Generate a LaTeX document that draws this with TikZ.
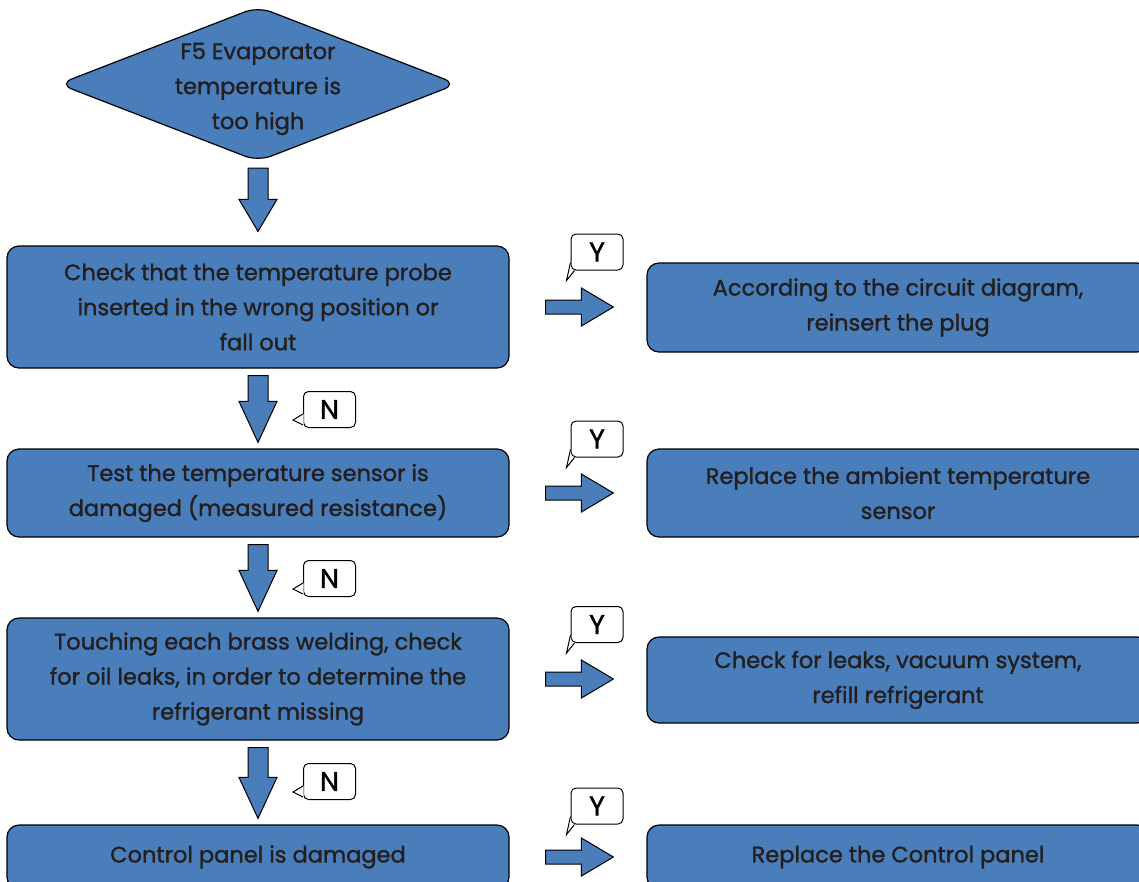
\documentclass[tikz,border=0pt]{standalone}
\usepackage{fontspec}
\setmainfont{Poppins}[FakeBold=1.4]
\usetikzlibrary{calc}
\definecolor{boxblue}{HTML}{4A7EBB}
\definecolor{txt}{HTML}{231F20}
\newcommand\varrow[4]{\draw[blk] let \p1=(#1.south), \p2=(#2.north) in
  (\x1-10pt,\y1-7pt) -- (\x1+10pt,\y1-7pt) -- (\x1+10pt,\y2+#3+#4) -- (\x1+19pt,\y2+#3+#4)
  -- (\x1,\y2+#3) -- (\x1-19pt,\y2+#3+#4) -- (\x1-10pt,\y2+#3+#4) -- cycle;}
\newcommand\harrow[2]{\draw[blk] let \p1=(#1.east), \p2=(#2.west) in
  (\x1+36pt,\y1+7pt) -- (\x2-65pt,\y1+7pt) -- (\x2-65pt,\y1+19pt) -- (\x2-33pt,\y1)
  -- (\x2-65pt,\y1-19pt) -- (\x2-65pt,\y1-7pt) -- (\x1+36pt,\y1-7pt) -- cycle;}
\newcommand\ytail[1]{%
  \fill[white] ($(#1.south west)+(0.6,-8)$) -- ($(#1.south west)+(-4,10)$) -- ($(#1.south west)+(4,-0.6)$) -- ($(#1.south west)+(0.6,-0.6)$) -- cycle;
  \draw[lblline] ($(#1.south west)+(0,-8)$) -- ($(#1.south west)+(-4,10)$) -- ($(#1.south west)+(4,0)$);}
\newcommand\ntail[1]{%
  \fill[white] ($(#1.south west)+(0.6,-14)$) -- ($(#1.south west)+(-10,-8)$) -- ($(#1.south west)+(0.6,-3)$) -- cycle;
  \draw[lblline] ($(#1.south west)+(0,-14)$) -- ($(#1.south west)+(-10,-8)$) -- ($(#1.south west)+(0,-3)$);}
\begin{document}
\begin{tikzpicture}[x=1pt,y=-1pt,
  box/.style={draw=black, line width=1.2pt, fill=boxblue, rounded corners=12pt,
    minimum width=502pt, align=center, text=txt, font=\fontsize{22.5}{35}\selectfont, inner sep=0pt},
  decis/.style={minimum width=398pt, minimum height=154pt, align=center, text=txt,
    font=\fontsize{22.5}{35}\selectfont, inner sep=0pt},
  decisshape/.style={draw=black, line width=1.2pt, fill=boxblue, rounded corners=14pt},
  blk/.style={draw=black, line width=1pt, fill=boxblue, line join=miter},
  lbl/.style={draw=black, line width=1pt, fill=white, rounded corners=5pt,
    minimum width=52pt, minimum height=36pt, inner sep=0pt, font=\fontsize{27}{27}\selectfont},
  lblline/.style={draw=black, line width=1pt}]
\useasboundingbox (0,0) rectangle (1139,881);
\clip (0,0) rectangle (1139,881);

\path (258,84) node[decis] (start) {};
\draw[decisshape] (start.west) -- (start.north) -- (start.east) -- (start.south) -- cycle;
\node[decis] at ($(start.center)+(0,5)$) {F5 Evaporator\\temperature is\\too high};

\node[box, minimum height=122pt] (b1) at (258,307) {Check that the temperature probe\\inserted in the wrong position or\\fall out};
\node[box, minimum height=88pt] (b2) at (258,493) {Test the temperature sensor is\\damaged (measured resistance)};
\node[box, minimum height=122pt] (b3) at (258,679) {Touching each brass welding, check\\for oil leaks, in order to determine the\\refrigerant missing};
\node[box, minimum height=64pt] (b4) at (258,857) {Control panel is damaged};

\node[box, minimum height=89pt] (r1) at (898,307.5) {According to the circuit diagram,\\reinsert the plug};
\node[box, minimum height=88pt] (r2) at (898,493) {Replace the ambient temperature\\sensor};
\node[box, minimum height=86pt] (r3) at (898,680) {Check for leaks, vacuum system,\\refill refrigerant};
\node[box, minimum height=64pt] (r4) at (898,857) {Replace the Control panel};

\varrow{start}{b1}{14pt}{32pt}
\varrow{b1}{b2}{6pt}{41pt}
\varrow{b2}{b3}{6pt}{41pt}
\varrow{b3}{b4}{6pt}{41pt}

\harrow{b1}{r1}
\harrow{b2}{r2}
\harrow{b3}{r3}
\harrow{b4}{r4}

\node[lbl] (n1) at (329.5,409.5) {N};
\node[lbl] (n2) at (329.5,578.5) {N};
\node[lbl] (n3) at (329.5,781.5) {N};
\ntail{n1}\ntail{n2}\ntail{n3}

\node[lbl] (y1) at (597,252) {Y};
\node[lbl] (y2) at (597,439) {Y};
\node[lbl] (y3) at (597,624.5) {Y};
\node[lbl] (y4) at (597,806) {Y};
\ytail{y1}\ytail{y2}\ytail{y3}\ytail{y4}
\end{tikzpicture}
\end{document}
